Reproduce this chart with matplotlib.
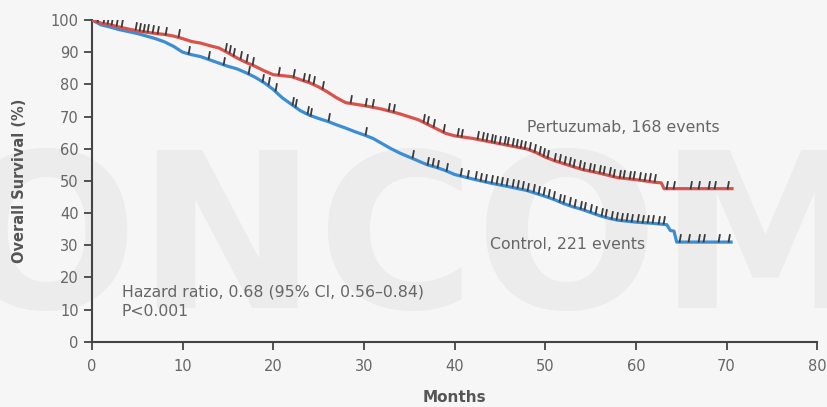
import numpy as np
import matplotlib
matplotlib.use("Agg")
import matplotlib.pyplot as plt
from matplotlib.path import Path

# Kaplan-Meier estimates, overall survival (%), by month
pert_t = [0, 1, 2, 3, 4, 5, 6, 7, 8, 9, 10, 11, 12, 13, 14, 15, 16, 17, 18, 19,
          20, 22, 24, 25, 26, 27, 28, 30, 32, 34, 36, 37, 38, 39, 40, 42, 44, 46,
          48, 49, 50, 51, 52, 54, 56, 58, 60, 62, 62.8, 63.1, 70.6]
pert_s = [100, 99.0, 98.5, 97.8, 97.2, 96.6, 96.2, 95.8, 95.5, 95.0, 94.2, 93.3,
          92.8, 92.0, 91.3, 89.8, 88.2, 86.8, 85.6, 84.2, 83.0, 82.4, 80.5, 79.2,
          77.6, 75.8, 74.3, 73.4, 72.3, 70.8, 69.0, 67.6, 66.2, 64.8, 64.0, 63.2,
          62.1, 61.0, 59.9, 58.8, 57.4, 56.3, 55.4, 53.6, 52.4, 51.0, 50.4, 49.6,
          49.4, 47.6, 47.6]

ctrl_t = [0, 1, 2, 3, 4, 5, 6, 7, 8, 9, 10, 11, 12, 13, 14, 15, 16, 17, 18, 19,
          20, 21, 22, 23, 24, 25, 26, 27, 28, 29, 30, 31, 32, 33, 34, 35, 36, 37,
          38, 39, 40, 42, 44, 46, 48, 50, 51, 52, 53, 54, 55, 56, 57, 58, 60, 62,
          63.4, 63.8, 64.2, 64.5, 70.5]
ctrl_s = [100, 98.5, 97.8, 97.0, 96.4, 95.8, 95.0, 94.2, 93.2, 91.8, 90.0, 89.2,
          88.6, 87.6, 86.6, 85.6, 84.8, 83.6, 82.2, 80.5, 78.4, 75.8, 73.8, 71.8,
          70.4, 69.4, 68.5, 67.4, 66.4, 65.3, 64.3, 63.2, 61.6, 60.0, 58.6, 57.4,
          56.2, 55.0, 54.2, 53.2, 52.0, 50.6, 49.3, 48.2, 47.0, 45.2, 44.2, 43.0,
          42.0, 41.2, 40.2, 39.2, 38.4, 37.8, 37.2, 36.8, 36.4, 34.6, 34.4, 31.0,
          31.0]

# censoring times (months)
pert_cens = [0.55, 1.2, 1.65, 2.1, 2.65, 3.2, 4.75, 5.2, 5.6, 6.05, 6.6, 7.2, 8.05,
             9.5, 14.7, 15.1, 15.55, 16.3, 17.0, 17.65, 20.5, 22.2, 23.3, 23.8,
             24.4, 25.4, 28.5, 30.1, 30.9, 32.7, 33.2, 36.5, 37.0, 37.6, 38.7,
             40.3, 40.7, 42.5, 43.0, 43.5, 44.0, 44.4, 44.9, 45.4, 45.8, 46.3,
             46.8, 47.2, 47.7, 48.2, 48.8, 49.3, 49.7, 50.2, 51.0, 51.5, 52.1,
             52.6, 53.1, 53.7, 54.2, 54.8, 55.3, 55.9, 56.4, 57.0, 57.5, 58.1,
             58.6, 59.2, 59.7, 60.3, 60.9, 61.4, 62.0, 63.3, 64.1, 66.0, 66.8,
             67.9, 68.6, 70.1]
ctrl_cens = [10.6, 12.8, 14.5, 17.2, 18.8, 19.4, 20.2, 22.1, 22.4, 23.7, 24.1,
             26.0, 30.1, 35.3, 37.0, 37.5, 38.1, 39.0, 40.6, 41.4, 42.2, 42.8,
             43.4, 44.0, 44.6, 45.1, 45.7, 46.3, 46.9, 47.4, 48.0, 48.6, 49.2,
             49.7, 50.3, 50.9, 51.5, 52.0, 52.6, 53.2, 53.8, 54.3, 54.9, 55.5,
             56.1, 56.6, 57.2, 57.8, 58.4, 58.9, 59.5, 60.1, 60.7, 61.2, 61.8,
             62.4, 63.0, 64.7, 65.7, 66.8, 67.4, 69.0, 70.2]

RED = "#d9534c"
BLUE = "#3b8ed3"
MARK = "#3a3a3a"
GREY = "#666666"

# short slanted stroke rising from the curve
tick_marker = Path([(0, 0), (0.18, 1)], [Path.MOVETO, Path.LINETO])

fig = plt.figure(figsize=(8.28, 4.07), dpi=100, facecolor="#f6f6f6")

# faint watermark lettering behind the plot
fig.text(0.50, 0.39, "ONCOM", fontsize=155, fontweight="bold", color="#ececec",
         ha="center", va="center", zorder=-1)

ax = fig.add_axes([0.111, 0.160, 0.876, 0.791])
ax.set_facecolor("none")

ax.plot(ctrl_t, ctrl_s, color=BLUE, lw=2.3, zorder=3)
ax.plot(pert_t, pert_s, color=RED, lw=2.3, zorder=3)

# censor marks sit on the curves
ax.plot(ctrl_cens, np.interp(ctrl_cens, ctrl_t, ctrl_s), ls="none",
        marker=tick_marker, ms=12, mec=MARK, mew=1.3, zorder=4)
ax.plot(pert_cens, np.interp(pert_cens, pert_t, pert_s), ls="none",
        marker=tick_marker, ms=12, mec=MARK, mew=1.3, zorder=4)

ax.set_xlim(0, 80)
ax.set_ylim(0, 100)
ax.set_xticks(range(0, 81, 10))
ax.set_yticks(range(0, 101, 10))

for side in ["top", "right"]:
    ax.spines[side].set_visible(False)
for side in ["left", "bottom"]:
    ax.spines[side].set_color("#444444")
    ax.spines[side].set_linewidth(1.5)
ax.tick_params(axis="both", direction="out", length=6, width=1.3,
               color="#444444", labelcolor=GREY, labelsize=10.5)
ax.tick_params(axis="x", pad=6)

ax.set_xlabel("Months", fontsize=11, fontweight="bold", color="#555555", labelpad=12)
ax.set_ylabel("Overall Survival (%)", fontsize=10.5, fontweight="bold",
              color="#555555", labelpad=17)

ax.text(48, 66.5, "Pertuzumab, 168 events", fontsize=11.3, color=GREY, va="center")
ax.text(43.9, 30.2, "Control, 221 events", fontsize=11.3, color=GREY, va="center")
ax.text(3.3, 15.5, "Hazard ratio, 0.68 (95% CI, 0.56\u20130.84)", fontsize=11.3,
        color=GREY, va="center")
ax.text(3.3, 9.3, "P<0.001", fontsize=11.3, color=GREY, va="center")

fig.savefig("out.png", dpi=100, facecolor=fig.get_facecolor())
